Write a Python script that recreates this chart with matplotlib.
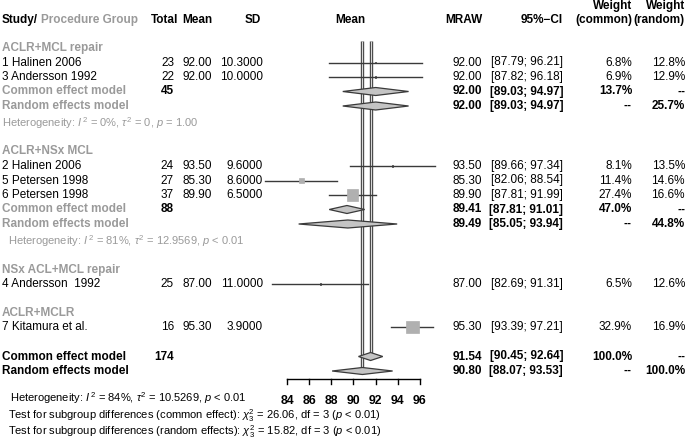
import numpy as np
import matplotlib.pyplot as plt
from matplotlib.patches import Rectangle, Polygon
from matplotlib.transforms import blended_transform_factory

plt.rcParams['font.family'] = ['Liberation Sans', 'DejaVu Sans']
plt.rcParams['mathtext.fontset'] = 'custom'
plt.rcParams['mathtext.rm'] = 'Liberation Sans'
plt.rcParams['mathtext.it'] = 'Liberation Sans:italic'
plt.rcParams['mathtext.bf'] = 'Liberation Sans:bold'

#%% data
study_names = ["1 Halinen 2006", "3 Andersson 1992", "2 Halinen 2006", "5 Petersen 1998",
               "6 Petersen 1998", "4 Andersson  1992", "7 Kitamura et al."]
study_group = [0, 0, 1, 1, 1, 2, 3]
study_n = [23, 22, 24, 27, 37, 25, 16]
study_mean = [92.00, 92.00, 93.50, 85.30, 89.90, 87.00, 95.30]
study_sd = [10.3, 10.0, 9.6, 8.6, 6.5, 11.0, 3.9]
study_lo = [87.79, 87.82, 89.66, 82.06, 87.81, 82.69, 93.39]
study_hi = [96.21, 96.18, 97.34, 88.54, 91.99, 91.31, 97.21]
w_common = [6.8, 6.9, 8.1, 11.4, 27.4, 6.5, 32.9]
w_random = [12.8, 12.9, 13.5, 14.6, 16.6, 12.6, 16.9]

group_names = ["ACLR+MCL repair", "ACLR+NSx MCL", "NSx ACL+MCL repair", "ACLR+MCLR"]
group_n = [45, 88, None, None]
fixed_est = [92.00, 89.41, None, None]
fixed_lo = [89.03, 87.81, None, None]
fixed_hi = [94.97, 91.01, None, None]
fixed_w = [13.7, 47.0, None, None]
random_est = [92.00, 89.49, None, None]
random_lo = [89.03, 85.05, None, None]
random_hi = [94.97, 93.94, None, None]
random_w = [25.7, 44.8, None, None]
het_i2 = ["0%", "81%", None, None]
het_tau2 = ["0", "12.9569", None, None]
het_p = ["= 1.00", "< 0.01", None, None]

total_n = 174
all_fixed = [91.54, 90.45, 92.64]
all_random = [90.80, 88.07, 93.53]
all_i2, all_tau2, all_p = "84%", "10.5269", "< 0.01"
sub_q_common, sub_q_random, sub_df = "26.06", "15.82", 3

ticks = [84, 86, 88, 90, 92, 94, 96]
#%%

#%% canvas: one axes over the whole figure, x in mean units, y in pixel rows
W, H = 688, 441
px_per_unit = 11.083
x0_px = 287
fig = plt.figure(figsize=(W / 100, H / 100), dpi=100)
ax = fig.add_axes([0, 0, 1, 1])
ax.set_xlim(84 - x0_px / px_per_unit, 84 + (W - x0_px) / px_per_unit)
ax.set_ylim(H, 0)
ax.axis('off')
tr = blended_transform_factory(ax.transAxes, ax.transData)

GRAY = '#9a9a9a'
LINE = '#3a3a3a'
FS = 8.5


def txt(px, y, s, ha='left', color='black', bold=False, size=FS):
    ax.text(px / W, y, s, transform=tr, ha=ha, va='center', color=color,
            fontsize=size, fontweight='bold' if bold else 'normal')


def diamond(est, lo, hi, y, half=4):
    ax.add_patch(Polygon([[lo, y], [est, y - half], [hi, y], [est, y + half]],
                         closed=True, facecolor='#c4c4c4', edgecolor=LINE, lw=0.9, zorder=4))


def wfmt(w):
    return '--' if w is None else f'{w:.1f}%'


# header
txt(2, 20, 'Study/', bold=True)
txt(41, 20, 'Procedure Group', bold=True, color=GRAY)
txt(178, 20, 'Total', ha='right', bold=True)
txt(212, 20, 'Mean', ha='right', bold=True)
txt(261, 20, 'SD', ha='right', bold=True)
ax.text(350 / W, 20, 'Mean', transform=tr, ha='center', va='center', fontsize=FS, fontweight='bold')
txt(482, 20, 'MRAW', ha='right', bold=True)
txt(563, 20, '95%\u2212CI', ha='right', bold=True)
txt(632, 6, 'Weight', ha='right', bold=True)
txt(632, 20, '(common)', ha='right', bold=True)
txt(685, 6, 'Weight', ha='right', bold=True)
txt(685, 20, '(random)', ha='right', bold=True)

step = 14.5
y = 48
y_top = y - 7
for g, gname in enumerate(group_names):
    txt(2, y, gname, bold=True, color=GRAY)
    y += step
    for i in [k for k, gg in enumerate(study_group) if gg == g]:
        txt(2, y, study_names[i])
        txt(174, y, f'{study_n[i]}', ha='right')
        txt(212, y, f'{study_mean[i]:.2f}', ha='right')
        txt(263, y, f'{study_sd[i]:.4f}', ha='right')
        txt(482, y, f'{study_mean[i]:.2f}', ha='right')
        txt(563, y, f'[{study_lo[i]:.2f}; {study_hi[i]:.2f}]', ha='right')
        txt(632, y, wfmt(w_common[i]), ha='right')
        txt(685, y, wfmt(w_random[i]), ha='right')
        ax.plot([study_lo[i], study_hi[i]], [y, y], color=LINE, lw=1.0, zorder=3)
        # box size grows with the common-effect weight
        side = max(1.5, 2.5 * np.sqrt(max(w_common[i] - 7.6, 0.0)))
        tiny = side < 2.5
        ax.add_patch(Rectangle((study_mean[i] - (0.6 if tiny else side) / 2 / px_per_unit, y - side / 2),
                               (0.6 if tiny else side) / px_per_unit, side,
                               facecolor=LINE if tiny else '#b0b0b0',
                               edgecolor=LINE if tiny else '#b0b0b0', lw=0.5, zorder=4))
        y += step
    if fixed_est[g] is not None:
        txt(2, y, 'Common effect model', bold=True, color=GRAY)
        txt(174, y, f'{group_n[g]}', ha='right', bold=True)
        txt(482, y, f'{fixed_est[g]:.2f}', ha='right', bold=True)
        txt(563, y, f'[{fixed_lo[g]:.2f}; {fixed_hi[g]:.2f}]', ha='right', bold=True)
        txt(632, y, wfmt(fixed_w[g]), ha='right', bold=True)
        txt(685, y, '--', ha='right', bold=True)
        diamond(fixed_est[g], fixed_lo[g], fixed_hi[g], y)
        y += step
        txt(2, y, 'Random effects model', bold=True, color=GRAY)
        txt(482, y, f'{random_est[g]:.2f}', ha='right', bold=True)
        txt(563, y, f'[{random_lo[g]:.2f}; {random_hi[g]:.2f}]', ha='right', bold=True)
        txt(632, y, '--', ha='right', bold=True)
        txt(685, y, wfmt(random_w[g]), ha='right', bold=True)
        diamond(random_est[g], random_lo[g], random_hi[g], y)
        y += 17.5
        txt(2 if g == 0 else 8, y,
            f'Heterogeneity: $I^{{\\,2}}$ = {het_i2[g]}, $\\tau^2$ = {het_tau2[g]}, $p$ {het_p[g]}',
            color=GRAY, size=8.0)
        y += 28
    else:
        y += 14

# overall
y += 1
y_common = y
txt(2, y, 'Common effect model', bold=True)
txt(174, y, f'{total_n}', ha='right', bold=True)
txt(482, y, f'{all_fixed[0]:.2f}', ha='right', bold=True)
txt(563, y, f'[{all_fixed[1]:.2f}; {all_fixed[2]:.2f}]', ha='right', bold=True)
txt(632, y, '100.0%', ha='right', bold=True)
txt(685, y, '--', ha='right', bold=True)
diamond(*all_fixed, y)
y += step
y_random = y
txt(2, y, 'Random effects model', bold=True)
txt(482, y, f'{all_random[0]:.2f}', ha='right', bold=True)
txt(563, y, f'[{all_random[1]:.2f}; {all_random[2]:.2f}]', ha='right', bold=True)
txt(632, y, '--', ha='right', bold=True)
txt(685, y, '100.0%', ha='right', bold=True)
diamond(*all_random, y, half=3.5)

# reference lines for pooled estimates
for est, yb in [(all_fixed[0], y_common), (all_random[0], y_random)]:
    ax.plot([est, est], [y_top, yb], color=LINE, lw=2.4, zorder=2, solid_capstyle='butt')
    ax.plot([est, est], [y_top, yb], color='#d8d8d8', lw=0.9, zorder=2, solid_capstyle='butt')

# x axis
ya = y_random + 8
ax.plot([ticks[0], ticks[-1]], [ya, ya], color='black', lw=1.0)
for t in ticks:
    ax.plot([t, t], [ya, ya + 5], color='black', lw=1.0)
    ax.text(t, ya + 22, f'{t}', ha='center', va='center', fontsize=8.8, fontweight='bold')

txt(10, 398, f'Heterogeneity: $I^{{\\,2}}$ = {all_i2}, $\\tau^2$ = {all_tau2}, $p$ {all_p}', size=8.0)
txt(8, 416, f'Test for subgroup differences (common effect): $\\chi^2_{{{sub_df}}}$ = {sub_q_common}, df = {sub_df} ($p$ < 0.01)', size=8.0)
txt(8, 432, f'Test for subgroup differences (random effects): $\\chi^2_{{{sub_df}}}$ = {sub_q_random}, df = {sub_df} ($p$ < 0.01)', size=8.0)

fig.savefig('out.png', dpi=100, facecolor='white')
